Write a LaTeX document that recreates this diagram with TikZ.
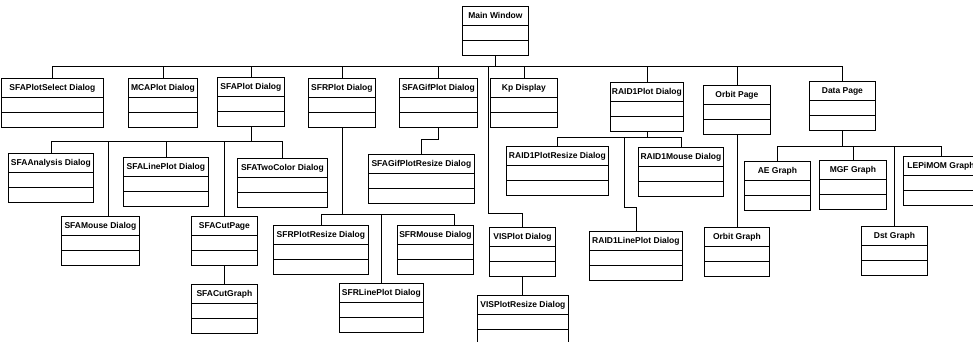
\documentclass[tikz,border=0pt]{standalone}
\usepackage{fontspec}
\setsansfont{Liberation Sans}
\usetikzlibrary{positioning}

\tikzset{
  cls/.style={draw, line width=0.8pt, anchor=north west, inner sep=0pt,
    minimum height=49pt, text height=12.5pt, text depth=36.5pt,
    font=\sffamily\bfseries\fontsize{8.5}{10}\selectfont,
    path picture={
      \draw[line width=0.8pt] ([yshift=-19pt]path picture bounding box.north west) -- ([yshift=-19pt]path picture bounding box.north east);
      \draw[line width=0.8pt] ([yshift=-34pt]path picture bounding box.north west) -- ([yshift=-34pt]path picture bounding box.north east);
    }},
  link/.style={line width=0.6pt}
}

\begin{document}
\begin{tikzpicture}[x=1pt,y=-1pt]
\useasboundingbox (0,0) rectangle (973,342);

% class boxes: name/left/top/width/title
\foreach \n/\x/\y/\w/\t in {
    main/462/6/66/Main Window,
    sfaselect/1/78/102/SFAPlotSelect Dialog,
    mcaplot/128/78/69/MCAPlot Dialog,
    sfaplot/217/77/67/SFAPlot Dialog,
    sfrplot/308/78/67/SFRPlot Dialog,
    sfagif/399/78/78/SFAGifPlot Dialog,
    kp/490/78/67/Kp Display,
    raid/610/82/73/RAID1Plot Dialog,
    orbitpage/703/85/67/Orbit Page,
    datapage/809/81/66/Data Page,
    sfaanalysis/8/153/85/SFAAnalysis Dialog,
    sfaline/123/157/85/SFALinePlot Dialog,
    sfatwo/237/158/90/SFATwoColor Dialog,
    sfamouse/61/216/78/SFAMouse Dialog,
    sfacutpage/191/216/66/SFACutPage,
    sfacutgraph/191/284/66/SFACutGraph,
    sfrresize/273/225/95/SFRPlotResize Dialog,
    sfrmouse/397/225/76/SFRMouse Dialog,
    sfrline/339/283/84/SFRLinePlot Dialog,
    gifresize/368/154/106/SFAGifPlotResize Dialog,
    vis/489/227/66/VISPlot Dialog,
    visresize/477/295/91/VISPlotResize Dialog,
    raidresize/506/146/102/RAID1PlotResize Dialog,
    raidmouse/638/147/85/RAID1Mouse Dialog,
    raidline/589/231/93/RAID1LinePlot Dialog,
    orbitgraph/704/227/65/Orbit Graph,
    ae/744/161/66/AE Graph,
    mgf/819/160/67/MGF Graph,
    lepimom/903/156/75/LEPiMOM Graph,
    dst/861/226/66/Dst Graph} {
    \node[cls, minimum width=\w pt] (\n) at (\x,\y) {\t};
}

% main window tree
\coordinate (mainbus) at (0,66);
\foreach \c in {sfaselect,mcaplot,sfaplot,sfrplot,sfagif,kp,raid,orbitpage,datapage}
    \draw[link] (main.south) -- (main.south |- mainbus) -| (\c.north);
\coordinate (visbend) at (488,213);
\draw[link] (main.south |- mainbus) -| (visbend) -| (vis.north);

% SFAPlot tree
\coordinate (sfabus) at (0,141);
\foreach \c in {sfaanalysis,sfaline,sfatwo,sfacutpage}
    \draw[link] (sfaplot.south) -- (sfaplot.south |- sfabus) -| (\c.north);
\draw[link] (sfaplot.south |- sfabus) -| ([xshift=8pt]sfamouse.north);
\draw[link] (sfacutpage.south) -- (sfacutgraph.north);

% SFRPlot tree
\coordinate (sfrbus) at (0,214);
\foreach \c in {sfrresize,sfrline}
    \draw[link] (sfrplot.south) -- (sfrplot.south |- sfrbus) -| (\c.north);
\draw[link] (sfrplot.south |- sfrbus) -| ([xshift=19pt]sfrmouse.north);

\draw[link] (sfagif.south) -- ++(0,11) -| (gifresize.north);
\draw[link] (vis.south) -- (vis.south |- visresize.north);

% RAID1Plot tree
\coordinate (raidbus) at (0,137);
\foreach \c in {raidresize,raidmouse}
    \draw[link] (raid.south) -- (raid.south |- raidbus) -| (\c.north);
\coordinate (raidbend) at (624,207);
\draw[link] (raid.south |- raidbus) -| (raidbend) -| (raidline.north);

\draw[link] (orbitpage.south) -- (orbitgraph.north);

% Data page tree
\coordinate (databus) at (0,146);
\foreach \c in {ae,mgf,lepimom,dst}
    \draw[link] (datapage.south) -- (datapage.south |- databus) -| (\c.north);
\end{tikzpicture}
\end{document}
